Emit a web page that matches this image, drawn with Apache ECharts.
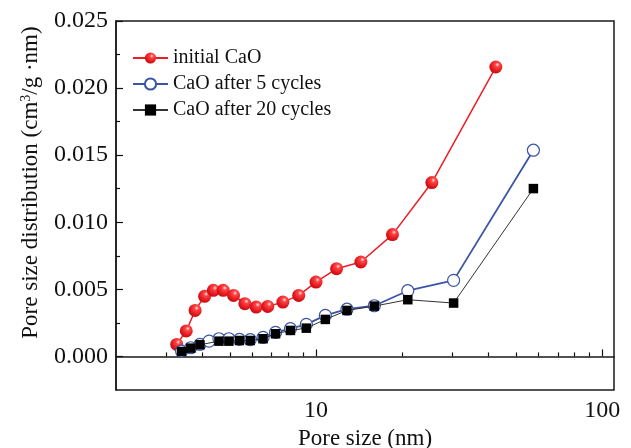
<!DOCTYPE html>
<html>
<head>
<meta charset="utf-8">
<script src="https://cdn.jsdelivr.net/npm/echarts@6/dist/echarts.min.js"></script>
<style>html,body{margin:0;padding:0;background:#fff}#c{width:631px;height:448px}</style>
</head>
<body>
<div id="c"></div>
<script>
// Data
var initialX = [3.26, 3.52, 3.78, 4.08, 4.38, 4.74, 5.15, 5.64, 6.18, 6.78, 7.66, 8.70, 10.0, 11.8, 14.35, 18.5, 25.4, 42.5];
var initialY = [0.0009, 0.0019, 0.00343, 0.00448, 0.00493, 0.00493, 0.00455, 0.00393, 0.00368, 0.00373, 0.00405, 0.00455, 0.00554, 0.00654, 0.00704, 0.00908, 0.01296, 0.02157];
var cyc5X = [3.39, 3.65, 3.93, 4.23, 4.58, 4.96, 5.40, 5.89, 6.53, 7.22, 8.14, 9.25, 10.78, 12.83, 15.99, 20.93, 30.26, 57.5];
var cyc5Y = [0.0004, 0.00065, 0.0009, 0.00114, 0.00132, 0.00132, 0.00127, 0.00125, 0.00142, 0.00179, 0.00207, 0.00239, 0.00306, 0.00352, 0.00378, 0.0049, 0.00567, 0.01537];
var cyc20X = [3.39, 3.65, 3.93, 4.58, 4.96, 5.40, 5.89, 6.53, 7.22, 8.14, 9.25, 10.78, 12.83, 15.99, 20.93, 30.26, 57.5];
var cyc20Y = [0.00037, 0.00062, 0.00087, 0.00114, 0.00114, 0.00119, 0.00119, 0.00132, 0.00169, 0.00194, 0.00211, 0.00276, 0.00343, 0.00375, 0.00423, 0.00398, 0.01251];
var seriesNames = ['initial CaO', 'CaO after 5 cycles', 'CaO after 20 cycles'];
var xMajorTicks = [10, 100];
var xMinorTicks = [3, 4, 5, 6, 7, 8, 9, 20, 30, 40, 50, 60, 70, 80, 90];
var yMajorTicks = [0, 0.005, 0.010, 0.015, 0.020, 0.025];
var yMinorTicks = [0.0025, 0.0075, 0.0125, 0.0175, 0.0225];

function zip(xs, ys) { return xs.map(function (x, i) { return [x, ys[i]]; }); }

var font = 'Liberation Serif';
var ink = '#111111';
var chart = echarts.init(document.getElementById('c'), null, {renderer: 'canvas'});
var baseX = {type: 'log', logBase: 10, min: 2, max: 110, gridIndex: 0, position: 'bottom', splitLine: {show: false}};
var baseY = {type: 'value', min: -0.0025, max: 0.025, interval: 0.0025, gridIndex: 0, position: 'left', splitLine: {show: false}};
chart.setOption({
  animation: false,
  backgroundColor: '#fff',
  grid: {left: 116, right: 17, top: 21, bottom: 58, containLabel: false, outerBoundsMode: 'none',
    show: true, borderColor: '#1a1a1a', borderWidth: 1.5, backgroundColor: 'transparent'},
  legend: {
    orient: 'vertical', left: 127, top: 43, itemWidth: 35, itemHeight: 14, itemGap: 6,
    data: seriesNames,
    textStyle: {fontFamily: font, fontSize: 20, color: ink}
  },
  xAxis: [
    Object.assign({}, baseX, {
      axisLine: {show: true, lineStyle: {color: '#1a1a1a', width: 1.5}},
      axisTick: {show: true, inside: true, length: 7, customValues: xMajorTicks, lineStyle: {color: ink, width: 1.2}},
      axisLabel: {show: true, customValues: xMajorTicks, fontFamily: font, fontSize: 24, color: ink, margin: 9},
      name: 'Pore size (nm)', nameLocation: 'middle', nameGap: 35,
      nameTextStyle: {fontFamily: font, fontSize: 23, color: ink}
    }),
    Object.assign({}, baseX, {
      axisLine: {show: false},
      axisTick: {show: true, inside: true, length: 4, customValues: xMinorTicks, lineStyle: {color: ink, width: 1.2}},
      axisLabel: {show: false}
    })
  ],
  yAxis: [
    Object.assign({}, baseY, {
      axisLine: {show: true, lineStyle: {color: '#1a1a1a', width: 1.5}},
      axisTick: {show: true, inside: true, length: 7, customValues: yMajorTicks, lineStyle: {color: ink, width: 1.2}},
      axisLabel: {show: true, customValues: yMajorTicks, fontFamily: font, fontSize: 24, color: ink, margin: 8,
        formatter: function (v) { return (Math.round(v * 1000) / 1000).toFixed(3); }},
      name: '{a|Pore size distribution (cm}{s|3}{a|/g \u00b7nm)}', nameLocation: 'middle', nameGap: 74,
      nameTextStyle: {padding: [0, 0, 0, 46], rich: {
        a: {fontFamily: font, fontSize: 23, color: ink},
        s: {fontFamily: font, fontSize: 14, color: ink, verticalAlign: 'top', lineHeight: 14, padding: [0, 0, 9, 0]}
      }}
    }),
    Object.assign({}, baseY, {
      axisLine: {show: false},
      axisTick: {show: true, inside: true, length: 4, customValues: yMinorTicks, lineStyle: {color: ink, width: 1.2}},
      axisLabel: {show: false}
    })
  ],
  series: [
    {
      name: seriesNames[0], type: 'line', xAxisIndex: 0, yAxisIndex: 0,
      data: zip(initialX, initialY),
      symbol: 'circle', symbolSize: 13, z: 3,
      lineStyle: {color: '#ee1c24', width: 1.5},
      itemStyle: {color: {type: 'radial', x: 0.62, y: 0.32, r: 0.75, colorStops: [
        {offset: 0, color: '#ffe8e8'}, {offset: 0.22, color: '#ff4545'}, {offset: 0.7, color: '#e0151b'}, {offset: 1, color: '#b80d10'}
      ]}, borderWidth: 0}
    },
    {
      name: seriesNames[1], type: 'line', xAxisIndex: 0, yAxisIndex: 0,
      data: zip(cyc5X, cyc5Y),
      symbol: 'circle', symbolSize: 12, z: 4,
      lineStyle: {color: '#3b54a6', width: 1.8},
      itemStyle: {color: '#ffffff', borderColor: '#3b54a6', borderWidth: 1.2}
    },
    {
      name: seriesNames[2], type: 'line', xAxisIndex: 0, yAxisIndex: 0,
      data: zip(cyc20X, cyc20Y),
      symbol: 'rect', symbolSize: 9.5, z: 5,
      lineStyle: {color: '#333333', width: 1},
      itemStyle: {color: '#000000'}
    }
  ]
});
</script>
</body>
</html>
